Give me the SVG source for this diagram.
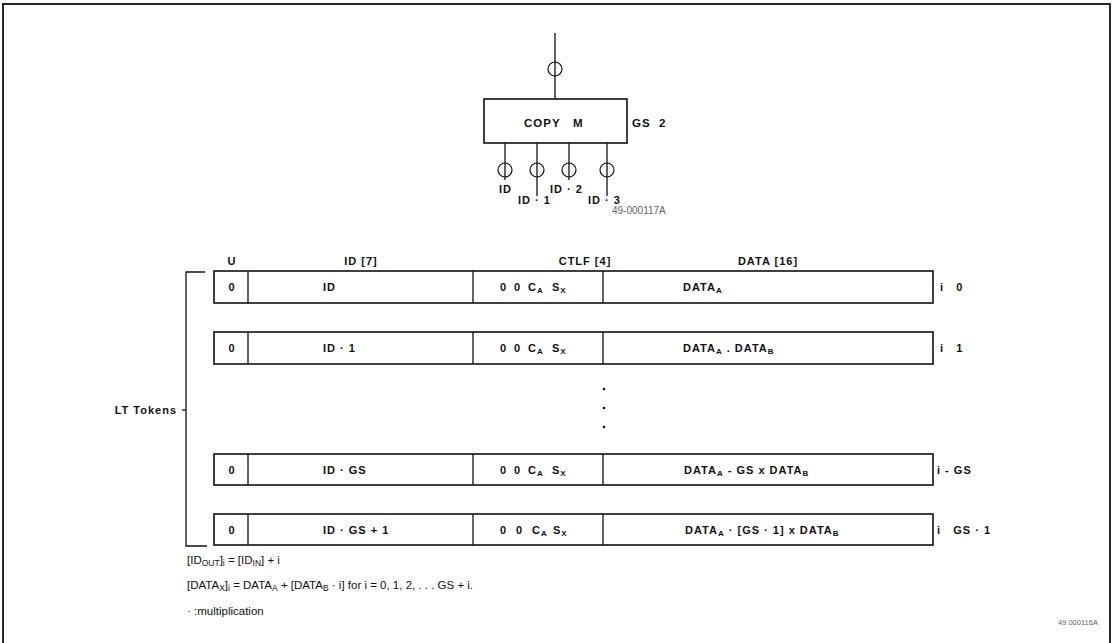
<svg xmlns="http://www.w3.org/2000/svg" width="1115" height="643" viewBox="0 0 1115 643">
<style>
.b{font-family:"Liberation Sans",Arial,sans-serif;font-weight:bold;font-size:11px;letter-spacing:1px;fill:#111}
.n{font-family:"Liberation Sans",Arial,sans-serif;font-size:11.5px;fill:#111}
.s{font-size:8px}
.ns{font-size:8.5px}
.g{font-family:"Liberation Sans",Arial,sans-serif;font-size:8px;fill:#666}
.ln{stroke:#111;stroke-width:1.3;fill:none}
.bx{stroke:#111;stroke-width:1.6;fill:#fff}
.c{stroke:#111;stroke-width:1.2;fill:#fff}
</style>
<rect x="0" y="0" width="1115" height="643" fill="#fff"/>
<rect x="3" y="4" width="1107" height="660" fill="none" stroke="#111" stroke-width="1.8"/>

<g id="connectors">
  <line class="ln" x1="555" y1="33" x2="555" y2="99"/>
  <line class="ln" x1="505" y1="143" x2="505" y2="180"/>
  <line class="ln" x1="537" y1="143" x2="537" y2="196"/>
  <line class="ln" x1="569" y1="143" x2="569" y2="180"/>
  <line class="ln" x1="607" y1="143" x2="607" y2="196"/>
  <polyline class="ln" points="205,272 186,272 186,546 207,546"/>
  <line class="ln" x1="182" y1="410" x2="186" y2="410"/>
</g>

<g id="token-in"><circle class="c" cx="555" cy="69" r="7"/><line class="ln" x1="555" y1="62" x2="555" y2="76"/></g>
<g id="copy-node">
  <rect class="bx" x="484" y="99" width="143" height="44"/>
  <text class="b" x="524" y="127" xml:space="preserve" style="font-size:11.5px">COPY   M</text>
  <text class="b" x="632" y="127" xml:space="preserve" style="font-size:11.5px">GS  2</text>
</g>
<g id="out-0"><circle class="c" cx="505" cy="170" r="7"/><line class="ln" x1="505" y1="163" x2="505" y2="177"/><text class="b" x="499" y="193">ID</text></g>
<g id="out-1"><circle class="c" cx="537" cy="170" r="7"/><line class="ln" x1="537" y1="163" x2="537" y2="177"/><text class="b" x="518" y="204" xml:space="preserve">ID · 1</text></g>
<g id="out-2"><circle class="c" cx="569" cy="170" r="7"/><line class="ln" x1="569" y1="163" x2="569" y2="177"/><text class="b" x="550" y="193" xml:space="preserve">ID · 2</text></g>
<g id="out-3"><circle class="c" cx="607" cy="170" r="7"/><line class="ln" x1="607" y1="163" x2="607" y2="177"/><text class="b" x="588" y="204" xml:space="preserve">ID · 3</text></g>
<text class="g" x="612" y="214" style="font-size:10px">49-000117A</text>

<g id="headers">
  <text class="b" x="232" y="265" text-anchor="middle">U</text>
  <text class="b" x="361" y="265" text-anchor="middle">ID [7]</text>
  <text class="b" x="585" y="265" text-anchor="middle">CTLF [4]</text>
  <text class="b" x="768" y="265" text-anchor="middle">DATA [16]</text>
</g>

<g id="row-0">
  <rect class="bx" x="214" y="271" width="719" height="32"/>
  <line class="ln" x1="248" y1="271" x2="248" y2="303"/><line class="ln" x1="473" y1="271" x2="473" y2="303"/><line class="ln" x1="603" y1="271" x2="603" y2="303"/>
  <text class="b" x="232" y="291" text-anchor="middle">0</text>
  <text class="b" x="323" y="291">ID</text>
  <text class="b" y="291"><tspan x="500">0</tspan><tspan x="514">0</tspan><tspan x="528">C</tspan><tspan class="s" dy="2">A</tspan><tspan x="552" dy="-2">S</tspan><tspan class="s" dy="2">X</tspan></text>
  <text class="b" x="683" y="291">DATA<tspan class="s" dy="2">A</tspan></text>
  <text class="b" x="940" y="291" xml:space="preserve">i   0</text>
</g>

<g id="row-1">
  <rect class="bx" x="214" y="332" width="719" height="32"/>
  <line class="ln" x1="248" y1="332" x2="248" y2="364"/><line class="ln" x1="473" y1="332" x2="473" y2="364"/><line class="ln" x1="603" y1="332" x2="603" y2="364"/>
  <text class="b" x="232" y="352" text-anchor="middle">0</text>
  <text class="b" x="323" y="352" xml:space="preserve">ID · 1</text>
  <text class="b" y="352"><tspan x="500">0</tspan><tspan x="514">0</tspan><tspan x="528">C</tspan><tspan class="s" dy="2">A</tspan><tspan x="552" dy="-2">S</tspan><tspan class="s" dy="2">X</tspan></text>
  <text class="b" x="683" y="352" xml:space="preserve">DATA<tspan class="s" dy="2">A</tspan><tspan dy="-2"> . DATA</tspan><tspan class="s" dy="2">B</tspan></text>
  <text class="b" x="940" y="352" xml:space="preserve">i   1</text>
</g>

<g id="ellipsis">
  <circle cx="604" cy="389" r="1.3" fill="#111"/>
  <circle cx="604" cy="408" r="1.3" fill="#111"/>
  <circle cx="604" cy="427" r="1.3" fill="#111"/>
</g>

<g id="row-gs">
  <rect class="bx" x="214" y="454" width="719" height="31"/>
  <line class="ln" x1="248" y1="454" x2="248" y2="485"/><line class="ln" x1="473" y1="454" x2="473" y2="485"/><line class="ln" x1="603" y1="454" x2="603" y2="485"/>
  <text class="b" x="232" y="474" text-anchor="middle">0</text>
  <text class="b" x="323" y="474" xml:space="preserve">ID · GS</text>
  <text class="b" y="474"><tspan x="500">0</tspan><tspan x="514">0</tspan><tspan x="528">C</tspan><tspan class="s" dy="2">A</tspan><tspan x="552" dy="-2">S</tspan><tspan class="s" dy="2">X</tspan></text>
  <text class="b" x="684" y="474" xml:space="preserve">DATA<tspan class="s" dy="2">A</tspan><tspan dy="-2"> - GS x DATA</tspan><tspan class="s" dy="2">B</tspan></text>
  <text class="b" x="937" y="474" xml:space="preserve">i - GS</text>
</g>

<g id="row-gs1">
  <rect class="bx" x="214" y="514" width="719" height="31"/>
  <line class="ln" x1="248" y1="514" x2="248" y2="545"/><line class="ln" x1="473" y1="514" x2="473" y2="545"/><line class="ln" x1="603" y1="514" x2="603" y2="545"/>
  <text class="b" x="232" y="534" text-anchor="middle">0</text>
  <text class="b" x="323" y="534" xml:space="preserve">ID · GS + 1</text>
  <text class="b" y="534"><tspan x="500">0</tspan><tspan x="516">0</tspan><tspan x="532">C</tspan><tspan class="s" dy="2">A</tspan><tspan x="553" dy="-2">S</tspan><tspan class="s" dy="2">X</tspan></text>
  <text class="b" x="685" y="534" xml:space="preserve">DATA<tspan class="s" dy="2">A</tspan><tspan dy="-2"> · [GS · 1] x DATA</tspan><tspan class="s" dy="2">B</tspan></text>
  <text class="b" x="937" y="534" xml:space="preserve">i   GS · 1</text>
</g>

<g id="lt-tokens"><text class="b" x="177" y="414" text-anchor="end">LT Tokens</text></g>

<g id="notes">
  <text class="n" x="187" y="564">[ID<tspan class="ns" dy="2">OUT</tspan><tspan dy="-2">]</tspan><tspan class="ns" dy="2">i</tspan><tspan dy="-2"> = [ID</tspan><tspan class="ns" dy="2">IN</tspan><tspan dy="-2">] + i</tspan></text>
  <text class="n" x="187" y="589">[DATA<tspan class="ns" dy="2">X</tspan><tspan dy="-2">]</tspan><tspan class="ns" dy="2">i</tspan><tspan dy="-2"> = DATA</tspan><tspan class="ns" dy="2">A</tspan><tspan dy="-2"> + [DATA</tspan><tspan class="ns" dy="2">B</tspan><tspan dy="-2"> · i] for i = 0, 1, 2, . . . GS + i.</tspan></text>
  <text class="n" x="187" y="615">· :multiplication</text>
</g>
<text class="g" x="1058" y="625" style="font-size:7.5px">49 000116A</text>
</svg>
